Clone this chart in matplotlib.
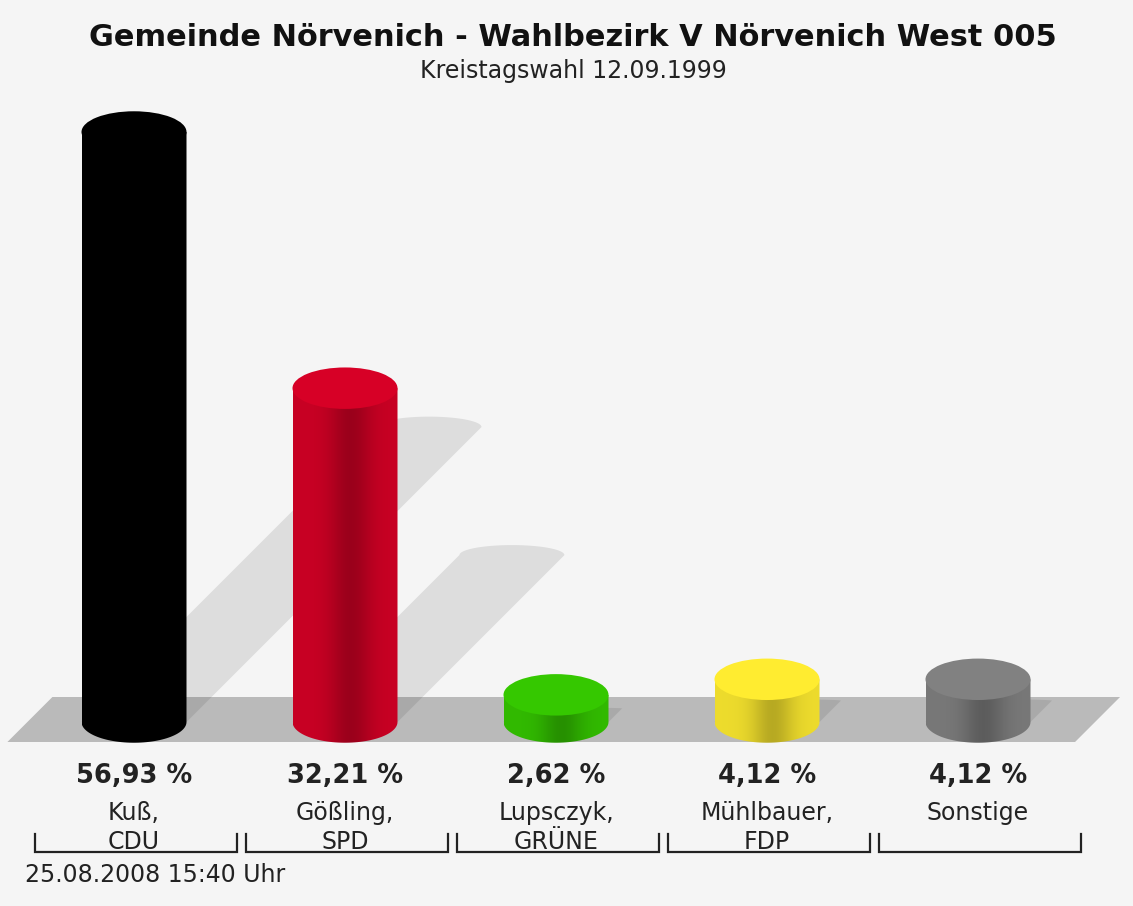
import numpy as np
import matplotlib.pyplot as plt
from matplotlib.patches import Polygon, Ellipse, Rectangle

# Daten
kandidaten = ['Kuß,\nCDU', 'Gößling,\nSPD', 'Lupsczyk,\nGRÜNE', 'Mühlbauer,\nFDP', 'Sonstige']
anteile = [56.93, 32.21, 2.62, 4.12, 4.12]
prozent_labels = ['56,93 %', '32,21 %', '2,62 %', '4,12 %', '4,12 %']
farben = ['#000000', '#d70026', '#35c800', '#ffec30', '#818181']

titel = 'Gemeinde Nörvenich - Wahlbezirk V Nörvenich West 005'
untertitel = 'Kreistagswahl 12.09.1999'
stand = '25.08.2008 15:40 Uhr'

# Layout (Pixel)
W, H = 1133, 906
PX = 211.0            # Pixel je Kategorie
PY = 590 / 56.93      # Pixel je Prozentpunkt
X0 = 134              # Mitte des ersten Balkens
Y0 = 722              # Grundlinie von oben

def yd(q):
    # Pixelzeile -> y in Daten
    return (Y0 - q) / PY

plt.rcParams['font.family'] = ['DejaVu Sans']
bg = '#f5f5f5'
fig = plt.figure(figsize=(W / 100, H / 100), dpi=100, facecolor=bg)
ax = fig.add_axes([0, 0, 1, 1])
ax.set_facecolor(bg)
ax.axis('off')

n = len(anteile)
breite = 105 / PX
ry = 2.0
y_hinten = yd(697)
y_vorne = yd(742)
versatz = (y_hinten - y_vorne) * PY / PX

# Boden
boden = Polygon([(-0.6, y_vorne), (n - 1 + 0.46, y_vorne),
                 (n - 1 + 0.46 + versatz, y_hinten), (-0.6 + versatz, y_hinten)],
                closed=True, facecolor='#bababa', edgecolor='none', zorder=2)
ax.add_patch(boden)

wand = Rectangle((-5, y_hinten), 20, 200, transform=ax.transData)

# Schatten
for i, v in enumerate(anteile):
    sdy = 0.5 * v
    sdx = sdy * PY / PX
    kh = min(1.0, 0.03 * v)
    th = np.linspace(0, np.pi, 40)
    kappe = np.column_stack([i + sdx + breite / 2 * np.cos(th), sdy + kh * np.sin(th)])
    pts = np.vstack([[(i - breite / 2, 0), (i + breite / 2, 0)], kappe])
    s1 = Polygon(pts, closed=True, facecolor='#dddddd', edgecolor='none', zorder=1)
    ax.add_patch(s1)
    s1.set_clip_path(wand)
    s2 = Polygon(pts, closed=True, facecolor='#a9a9a9', edgecolor='none', zorder=3)
    ax.add_patch(s2)
    s2.set_clip_path(boden)

# Zylinder
t = np.linspace(0, 1, 120)
profil = 0.93 - 0.21 * np.exp(-((t - 0.55) / 0.2) ** 2)
for i, (v, c) in enumerate(zip(anteile, farben)):
    rgb = np.array(plt.matplotlib.colors.to_rgb(c))
    img = (profil[:, None] * rgb[None, :])[None, :, :]
    th = np.linspace(np.pi, 2 * np.pi, 60)
    unten = np.column_stack([i + breite / 2 * np.cos(th), ry * np.sin(th)])
    koerper = np.vstack([[(i - breite / 2, v)], unten, [(i + breite / 2, v)]])
    clip = Polygon(koerper, closed=True, transform=ax.transData)
    im = ax.imshow(img, extent=(i - breite / 2, i + breite / 2, -ry, v),
                   aspect='auto', interpolation='bilinear', zorder=4)
    im.set_clip_path(clip)
    ax.add_patch(Ellipse((i, v), breite, 2 * ry, facecolor=c, edgecolor='none', zorder=5))

# Beschriftung
for i, (name, lab) in enumerate(zip(kandidaten, prozent_labels)):
    ax.text(i, yd(783), lab, ha='center', va='baseline', fontsize=18.5,
            fontweight='bold', color='#222222')
    for k, zeile in enumerate(name.split('\n')):
        ax.text(i, yd(820 + 29 * k), zeile, ha='center', va='baseline',
                fontsize=17, color='#222222')
    ax.plot([i - 0.47, i - 0.47, i + 0.49, i + 0.49],
            [yd(834), yd(852), yd(852), yd(834)], color='#222222', lw=1.6,
            solid_joinstyle='miter')

ax.set_xlim(-X0 / PX, (W - X0) / PX)
ax.set_ylim(yd(H), yd(0))

fig.text(573 / W, 1 - 46 / H, titel, ha='center', va='baseline', fontsize=21.9,
         fontweight='bold', color='#111111')
fig.text(573 / W, 1 - 78 / H, untertitel, ha='center', va='baseline', fontsize=17,
         color='#222222')
fig.text(25 / W, 1 - 882 / H, stand, ha='left', va='baseline', fontsize=17,
         color='#222222')

fig.savefig('out.png', dpi=100, facecolor=bg)
